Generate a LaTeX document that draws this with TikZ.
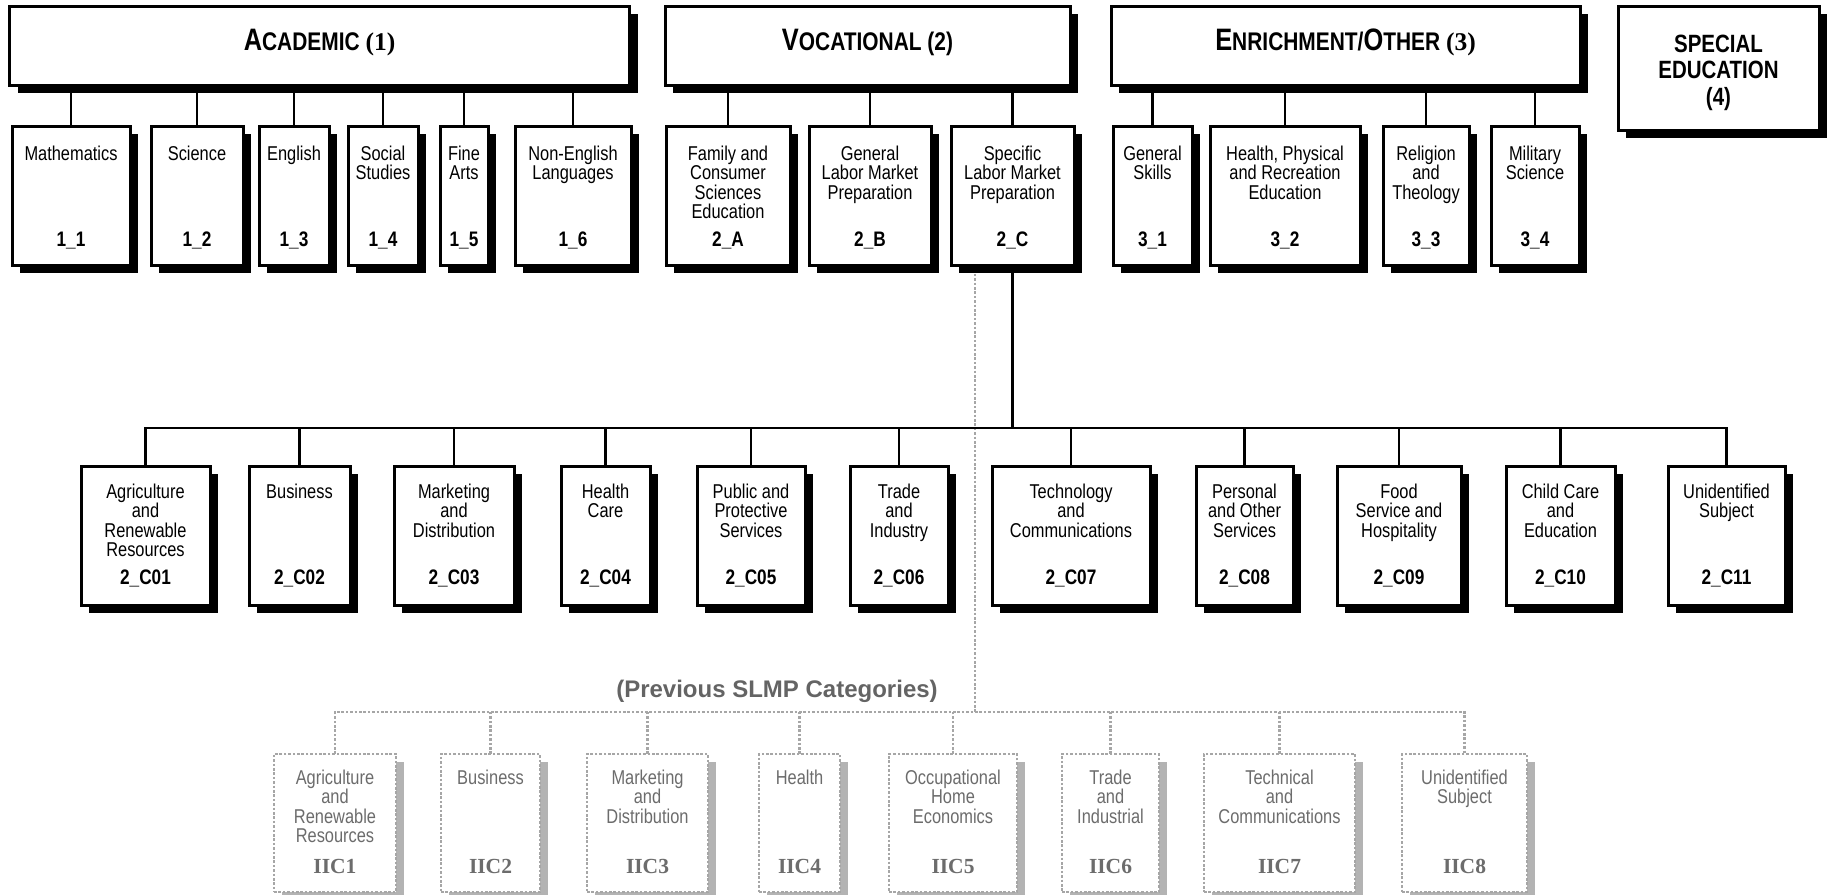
\documentclass[tikz,border=0pt]{standalone}
\usepackage{fontspec}
\setmainfont{Liberation Sans}
\newfontfamily\nsans{Liberation Sans}[FakeStretch=0.82]
\newfontfamily\nserif{Liberation Serif}
\usetikzlibrary{shadows,backgrounds,calc}
\definecolor{oldtext}{HTML}{6C6C6C}
\definecolor{oldline}{HTML}{A6A6A6}
\definecolor{oldshadow}{HTML}{B3B3B3}
\definecolor{prevtext}{HTML}{646464}
\newcommand\tightlines{\lineskiplimit-100pt\lineskip0pt\relax}
\tikzset{
  box/.style={rectangle, draw=black, line width=3pt, fill=white, inner sep=0pt, outer sep=0pt,
    drop shadow={shadow xshift=8pt, shadow yshift=-8pt, fill=black, opacity=1}},
  oldbox/.style={rectangle, draw=oldline, line width=2.8pt, dash pattern=on 2.6pt off 1.8pt, fill=white, inner sep=0pt, outer sep=0pt,
    drop shadow={shadow xshift=8pt, shadow yshift=-8pt, fill=oldshadow, opacity=1}},
  conn/.style={line width=2.6pt, draw=black},
  oldconn/.style={line width=2.8pt, draw=oldline, dash pattern=on 2.6pt off 1.8pt},
  lbl/.style={anchor=north, align=center, inner sep=0pt, font={\nsans\fontsize{20}{19.5}\selectfont\tightlines}},
  code/.style={anchor=base, inner sep=0pt, font={\nsans\bfseries\fontsize{21}{21}\selectfont}},
  oldlbl/.style={lbl, text=oldtext},
  oldcode/.style={anchor=base, inner sep=0pt, text=oldtext, font={\nserif\bfseries\fontsize{21.5}{21.5}\selectfont}},
  title/.style={anchor=base, inner sep=0pt, font={\nsans\bfseries}},
  sptext/.style={anchor=north, align=center, inner sep=0pt, font={\nsans\bfseries\fontsize{25}{26.5}\selectfont\tightlines}},
}
\newcommand\bigc[1]{{\fontsize{31}{31}\selectfont #1}}
\newcommand\smc[1]{{\fontsize{25.5}{25.5}\selectfont #1}}
\newcommand\subjnode[5]{%
  \node[box, minimum width={#3-#2}, minimum height={\rowbot-\rowtop}] (#1) at ({(#2+#3)/2},{(\rowtop+\rowbot)/2}) {};
  \node[lbl] (#1-t) at ({(#2+#3)/2},\rowlbl) {\rule{0pt}{15pt}#4};
  \node[code] (#1-c) at ({(#2+#3)/2},\rowcode) {#5};
}
\newcommand\oldnode[5]{%
  \node[oldbox, minimum width={#3-#2}, minimum height={\rowbot-\rowtop}] (#1) at ({(#2+#3)/2},{(\rowtop+\rowbot)/2}) {};
  \node[oldlbl] (#1-t) at ({(#2+#3)/2},\rowlbl) {\rule{0pt}{15pt}#4};
  \node[oldcode] (#1-c) at ({(#2+#3)/2},\rowcode) {#5};
}
\begin{document}
\begin{tikzpicture}[x=1pt,y=-1pt]
\useasboundingbox (0,0) rectangle (1830,894);
% top level
\node[box, minimum width=620, minimum height=79] (acad) at (319.5,45.5) {};
\node[title] (acad-t) at (319.5,50) {\bigc{A}\smc{CADEMIC {\nserif\bfseries(1)}}};
\node[box, minimum width=405, minimum height=79] (voc) at (867.5,45.5) {};
\node[title] (voc-t) at (867.5,50) {\bigc{V}\smc{OCATIONAL (2)}};
\node[box, minimum width=469, minimum height=79] (enr) at (1345.5,45.5) {};
\node[title] (enr-t) at (1345.5,50) {\bigc{E}\smc{NRICHMENT/}\bigc{O}\smc{THER {\nserif\bfseries(3)}}};
\node[box, minimum width=201, minimum height=124] (sped) at (1718.5,68) {};
\node[sptext] (sped-t) at (1718.5,33) {\rule{0pt}{19pt}SPECIAL\\EDUCATION\\(4)};
% row 1
\def\rowtop{126}\def\rowbot{265}\def\rowlbl{145}\def\rowcode{246}
\subjnode{m1}{12}{130}{Mathematics}{1\_1}
\subjnode{m2}{151}{243}{Science}{1\_2}
\subjnode{m3}{259}{329}{English}{1\_3}
\subjnode{m4}{348}{418}{Social\\Studies}{1\_4}
\subjnode{m5}{440}{488}{Fine\\Arts}{1\_5}
\subjnode{m6}{515}{631}{Non-English\\Languages}{1\_6}
\subjnode{v1}{666}{790}{Family and\\Consumer\\Sciences\\Education}{2\_A}
\subjnode{v2}{809}{931}{General\\Labor Market\\Preparation}{2\_B}
\subjnode{spec}{951}{1074}{Specific\\Labor Market\\Preparation}{2\_C}
\subjnode{e1}{1113}{1192}{General\\Skills}{3\_1}
\subjnode{e2}{1210}{1360}{Health, Physical\\and Recreation\\Education}{3\_2}
\subjnode{e3}{1383}{1469}{Religion\\and\\Theology}{3\_3}
\subjnode{e4}{1491}{1579}{Military\\Science}{3\_4}
% row 2
\def\rowtop{466}\def\rowbot{605}\def\rowlbl{483}\def\rowcode{584}
\subjnode{c01}{81}{210}{Agriculture\\and\\Renewable\\Resources}{2\_C01}
\subjnode{c02}{249}{350}{Business}{2\_C02}
\subjnode{c03}{394}{514}{Marketing\\and\\Distribution}{2\_C03}
\subjnode{c04}{561}{650}{Health\\Care}{2\_C04}
\subjnode{c05}{697}{805}{Public and\\Protective\\Services}{2\_C05}
\subjnode{c06}{850}{948}{Trade\\and\\Industry}{2\_C06}
\subjnode{c07}{992}{1150}{Technology\\and\\Communications}{2\_C07}
\subjnode{c08}{1196}{1293}{Personal\\and Other\\Services}{2\_C08}
\subjnode{c09}{1337}{1461}{Food\\Service and\\Hospitality}{2\_C09}
\subjnode{c10}{1506}{1615}{Child Care\\and\\Education}{2\_C10}
\subjnode{c11}{1668}{1785}{Unidentified\\Subject}{2\_C11}
% row 3 (previous categories)
\def\rowtop{754}\def\rowbot{892}\def\rowlbl{769}\def\rowcode{873}
\oldnode{o1}{274}{396}{Agriculture\\and\\Renewable\\Resources}{IIC1}
\oldnode{o2}{441}{540}{Business}{IIC2}
\oldnode{o3}{587}{708}{Marketing\\and\\Distribution}{IIC3}
\oldnode{o4}{759}{840}{Health}{IIC4}
\oldnode{o5}{889}{1017}{Occupational\\Home\\Economics}{IIC5}
\oldnode{o6}{1062}{1159}{Trade\\and\\Industrial}{IIC6}
\oldnode{o7}{1204}{1355}{Technical\\and\\Communications}{IIC7}
\oldnode{o8}{1402}{1527}{Unidentified\\Subject}{IIC8}
\node[font={\bfseries\fontsize{24}{24}\selectfont}, text=prevtext, inner sep=0pt] (prev) at (777,691)
  {(Previous SLMP Categories)};
% connectors
\coordinate (bus) at (0,428);
\coordinate (sx) at (975,0);
\coordinate (obus) at (0,712);
\begin{scope}[on background layer]
  \draw[oldconn] (spec.south -| sx) -- (sx |- obus);
  \draw[oldconn] (o1.north) -- (o1.north |- obus) -- (o8.north |- obus) -- (o8.north);
  \foreach \c in {o2,o3,o4,o5,o6,o7} \draw[oldconn] (\c.north) -- (\c.north |- obus);
  \foreach \c in {m1,m2,m3,m4,m5,m6} \draw[conn] (\c.north) -- (\c.north |- acad.south);
  \foreach \c in {v1,v2,spec} \draw[conn] (\c.north) -- (\c.north |- voc.south);
  \foreach \c in {e1,e2,e3,e4} \draw[conn] (\c.north) -- (\c.north |- enr.south);
  \draw[conn] (spec.south) -- (spec.south |- bus);
  \draw[conn] (c01.north) -- (c01.north |- bus) -- (c11.north |- bus) -- (c11.north);
  \foreach \c in {c02,c03,c04,c05,c06,c07,c08,c09,c10} \draw[conn] (\c.north) -- (\c.north |- bus);
\end{scope}
\end{tikzpicture}
\end{document}
